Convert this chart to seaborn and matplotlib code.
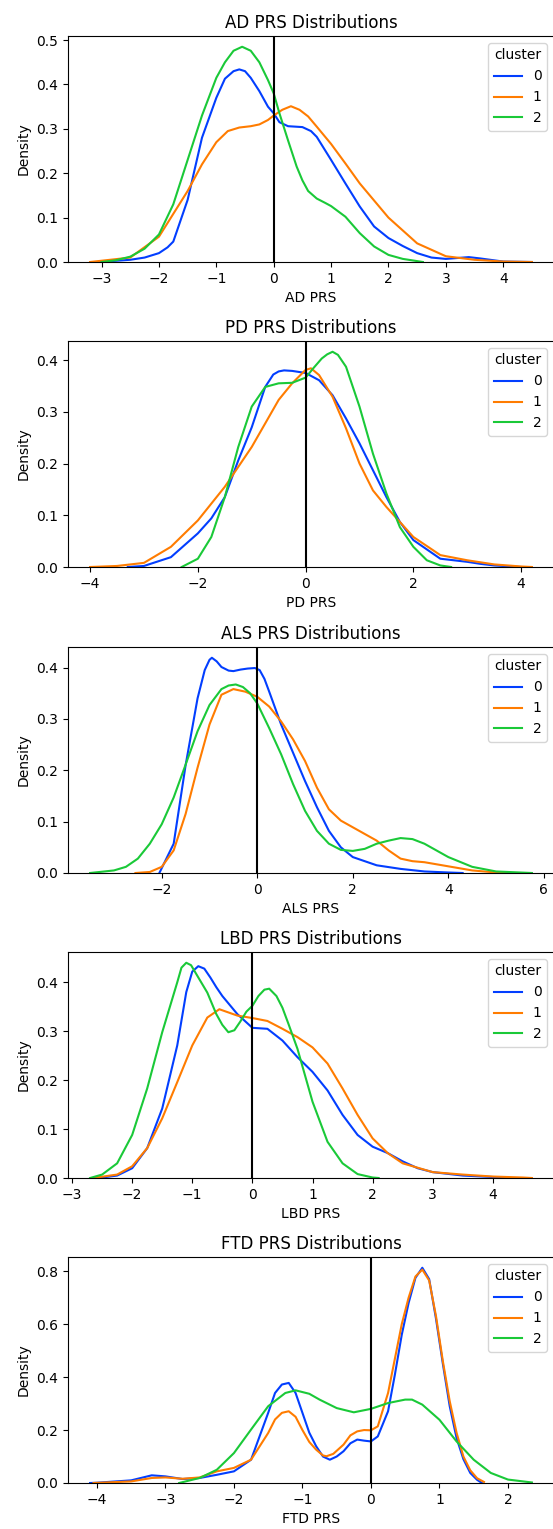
import pandas as pd
import matplotlib.pyplot as plt
import seaborn as sns

# density curves, one x/y list per cluster
ad_x0 = [-3.05, -2.5, -2.25, -2.0, -1.85, -1.75, -1.5, -1.25, -1.0, -0.85, -0.7, -0.6, -0.5, -0.4, -0.25, -0.1, 0.0, 0.1, 0.25, 0.5, 0.65, 0.75, 1.0, 1.25, 1.5, 1.75, 2.0, 2.25, 2.5, 2.75, 3.0, 3.2, 3.4, 3.6, 4.0, 4.5]
ad_y0 = [0.0, 0.005, 0.01, 0.02, 0.033, 0.046, 0.14, 0.28, 0.37, 0.413, 0.43, 0.434, 0.43, 0.415, 0.385, 0.35, 0.335, 0.315, 0.306, 0.304, 0.295, 0.282, 0.23, 0.177, 0.125, 0.08, 0.054, 0.036, 0.02, 0.01, 0.007, 0.009, 0.011, 0.008, 0.001, 0.0]
ad_x1 = [-3.2, -2.5, -2.0, -1.5, -1.25, -1.0, -0.8, -0.6, -0.4, -0.25, -0.1, 0.0, 0.15, 0.3, 0.45, 0.6, 0.75, 1.0, 1.25, 1.5, 2.0, 2.5, 3.0, 3.5, 4.0, 4.5]
ad_y1 = [0.0, 0.01, 0.057, 0.16, 0.22, 0.27, 0.295, 0.303, 0.306, 0.31, 0.32, 0.33, 0.343, 0.351, 0.343, 0.328, 0.305, 0.266, 0.222, 0.177, 0.1, 0.042, 0.013, 0.005, 0.001, 0.0]
ad_x2 = [-3.0, -2.75, -2.5, -2.25, -2.0, -1.75, -1.5, -1.25, -1.0, -0.85, -0.7, -0.55, -0.4, -0.25, -0.1, 0.0, 0.1, 0.25, 0.4, 0.5, 0.6, 0.75, 0.9, 1.0, 1.25, 1.5, 1.75, 2.0, 2.25, 2.6]
ad_y2 = [0.0, 0.004, 0.012, 0.03, 0.062, 0.13, 0.23, 0.33, 0.415, 0.45, 0.476, 0.485, 0.476, 0.45, 0.41, 0.38, 0.335, 0.274, 0.215, 0.184, 0.16, 0.143, 0.133, 0.126, 0.102, 0.065, 0.035, 0.016, 0.007, 0.0]

pd_x0 = [-3.3, -3.0, -2.5, -2.0, -1.75, -1.5, -1.25, -1.0, -0.75, -0.6, -0.5, -0.4, -0.25, 0.0, 0.25, 0.5, 0.75, 1.0, 1.25, 1.5, 1.75, 2.0, 2.5, 3.0, 3.25, 3.5, 4.0]
pd_y0 = [0.0, 0.002, 0.019, 0.065, 0.094, 0.135, 0.206, 0.27, 0.348, 0.372, 0.378, 0.38, 0.379, 0.375, 0.361, 0.332, 0.287, 0.239, 0.187, 0.135, 0.087, 0.052, 0.016, 0.01, 0.006, 0.003, 0.0]
pd_x1 = [-4.0, -3.5, -3.0, -2.5, -2.0, -1.5, -1.0, -0.5, -0.25, 0.0, 0.1, 0.25, 0.5, 0.75, 1.0, 1.25, 1.5, 1.75, 2.0, 2.5, 3.0, 3.5, 4.0, 4.2]
pd_y1 = [0.0, 0.002, 0.008, 0.039, 0.09, 0.155, 0.232, 0.323, 0.355, 0.381, 0.384, 0.371, 0.329, 0.268, 0.2, 0.148, 0.116, 0.087, 0.058, 0.023, 0.013, 0.005, 0.001, 0.0]
pd_x2 = [-2.3, -2.0, -1.75, -1.5, -1.25, -1.0, -0.75, -0.5, -0.25, 0.0, 0.15, 0.3, 0.4, 0.5, 0.6, 0.75, 1.0, 1.25, 1.5, 1.75, 2.0, 2.25, 2.5, 2.7]
pd_y2 = [0.0, 0.016, 0.058, 0.135, 0.232, 0.31, 0.348, 0.355, 0.356, 0.366, 0.385, 0.403, 0.411, 0.416, 0.41, 0.387, 0.31, 0.219, 0.142, 0.077, 0.039, 0.013, 0.003, 0.0]

als_x0 = [-2.05, -1.75, -1.5, -1.25, -1.1, -1.0, -0.95, -0.85, -0.75, -0.6, -0.5, -0.35, -0.2, -0.05, 0.05, 0.15, 0.25, 0.5, 0.75, 1.0, 1.25, 1.5, 1.75, 2.0, 2.5, 3.0, 3.5, 4.0, 4.3]
als_y0 = [0.0, 0.057, 0.21, 0.34, 0.395, 0.415, 0.419, 0.412, 0.401, 0.394, 0.393, 0.396, 0.398, 0.399, 0.395, 0.378, 0.353, 0.289, 0.234, 0.179, 0.128, 0.082, 0.05, 0.031, 0.015, 0.008, 0.003, 0.001, 0.0]
als_x1 = [-2.55, -2.25, -2.0, -1.75, -1.5, -1.25, -1.0, -0.75, -0.5, -0.25, 0.0, 0.25, 0.5, 0.75, 1.0, 1.25, 1.5, 1.75, 2.0, 2.5, 2.75, 3.0, 3.25, 3.5, 4.0, 4.5, 5.0, 5.3]
als_y1 = [0.0, 0.002, 0.012, 0.044, 0.115, 0.205, 0.289, 0.347, 0.358, 0.353, 0.343, 0.324, 0.295, 0.26, 0.218, 0.166, 0.124, 0.102, 0.089, 0.063, 0.044, 0.028, 0.023, 0.021, 0.013, 0.005, 0.001, 0.0]
als_x2 = [-3.5, -3.0, -2.75, -2.5, -2.25, -2.0, -1.75, -1.5, -1.25, -1.0, -0.75, -0.6, -0.45, -0.3, -0.15, 0.0, 0.25, 0.5, 0.75, 1.0, 1.25, 1.5, 1.75, 2.0, 2.25, 2.5, 2.75, 3.0, 3.25, 3.5, 3.75, 4.0, 4.5, 5.0, 5.5, 5.75]
als_y2 = [0.0, 0.005, 0.012, 0.028, 0.057, 0.095, 0.147, 0.211, 0.276, 0.327, 0.358, 0.365, 0.367, 0.362, 0.35, 0.33, 0.282, 0.231, 0.173, 0.121, 0.082, 0.057, 0.045, 0.043, 0.047, 0.057, 0.063, 0.068, 0.066, 0.057, 0.044, 0.031, 0.012, 0.003, 0.001, 0.0]

lbd_x0 = [-2.65, -2.5, -2.25, -2.0, -1.75, -1.5, -1.25, -1.1, -1.0, -0.9, -0.8, -0.7, -0.6, -0.5, -0.25, 0.0, 0.25, 0.5, 0.75, 1.0, 1.25, 1.5, 1.75, 2.0, 2.25, 2.5, 2.75, 3.0, 3.5, 4.0, 4.3]
lbd_y0 = [0.0, 0.001, 0.005, 0.02, 0.061, 0.142, 0.271, 0.38, 0.422, 0.433, 0.428, 0.41, 0.39, 0.372, 0.335, 0.307, 0.305, 0.281, 0.247, 0.217, 0.179, 0.129, 0.088, 0.064, 0.051, 0.034, 0.02, 0.012, 0.005, 0.002, 0.0]
lbd_x1 = [-2.65, -2.25, -2.0, -1.75, -1.5, -1.25, -1.0, -0.75, -0.55, -0.25, 0.0, 0.25, 0.5, 0.75, 1.0, 1.25, 1.5, 1.75, 2.0, 2.25, 2.5, 3.0, 3.5, 4.0, 4.5, 4.65]
lbd_y1 = [0.0, 0.007, 0.024, 0.061, 0.122, 0.196, 0.271, 0.328, 0.345, 0.332, 0.327, 0.321, 0.305, 0.288, 0.267, 0.234, 0.183, 0.129, 0.081, 0.051, 0.03, 0.012, 0.007, 0.003, 0.001, 0.0]
lbd_x2 = [-2.7, -2.5, -2.25, -2.0, -1.75, -1.5, -1.25, -1.18, -1.1, -1.02, -0.9, -0.75, -0.6, -0.5, -0.4, -0.3, -0.2, -0.1, 0.0, 0.1, 0.2, 0.28, 0.4, 0.5, 0.6, 0.75, 1.0, 1.25, 1.5, 1.75, 2.0, 2.1]
lbd_y2 = [0.0, 0.007, 0.03, 0.088, 0.183, 0.298, 0.4, 0.43, 0.44, 0.435, 0.41, 0.379, 0.335, 0.313, 0.298, 0.302, 0.32, 0.34, 0.352, 0.372, 0.385, 0.387, 0.372, 0.348, 0.315, 0.264, 0.156, 0.074, 0.03, 0.008, 0.001, 0.0]

ftd_x0 = [-4.1, -4.0, -3.5, -3.2, -3.0, -2.75, -2.5, -2.25, -2.0, -1.75, -1.5, -1.4, -1.3, -1.2, -1.1, -1.0, -0.9, -0.8, -0.7, -0.6, -0.5, -0.4, -0.3, -0.2, -0.1, 0.0, 0.1, 0.25, 0.35, 0.45, 0.55, 0.65, 0.75, 0.85, 0.95, 1.05, 1.15, 1.25, 1.35, 1.45, 1.55, 1.62]
ftd_y0 = [0.0, 0.001, 0.01, 0.029, 0.025, 0.015, 0.019, 0.031, 0.044, 0.088, 0.265, 0.34, 0.372, 0.378, 0.34, 0.265, 0.19, 0.139, 0.1, 0.088, 0.1, 0.12, 0.15, 0.164, 0.16, 0.157, 0.176, 0.271, 0.41, 0.56, 0.68, 0.775, 0.813, 0.77, 0.62, 0.45, 0.29, 0.17, 0.09, 0.038, 0.012, 0.0]
ftd_x1 = [-4.05, -3.5, -3.2, -3.0, -2.75, -2.5, -2.25, -2.0, -1.75, -1.5, -1.4, -1.3, -1.2, -1.1, -1.0, -0.9, -0.8, -0.7, -0.65, -0.55, -0.4, -0.3, -0.2, -0.1, 0.0, 0.1, 0.25, 0.35, 0.45, 0.55, 0.65, 0.75, 0.85, 0.95, 1.05, 1.15, 1.25, 1.35, 1.45, 1.55, 1.65]
ftd_y1 = [0.0, 0.006, 0.019, 0.021, 0.016, 0.021, 0.044, 0.057, 0.088, 0.189, 0.24, 0.265, 0.271, 0.25, 0.2, 0.155, 0.126, 0.104, 0.101, 0.11, 0.145, 0.18, 0.195, 0.2, 0.199, 0.214, 0.34, 0.47, 0.6, 0.7, 0.78, 0.806, 0.765, 0.63, 0.46, 0.309, 0.19, 0.1, 0.048, 0.018, 0.004]
ftd_x2 = [-2.8, -2.5, -2.25, -2.0, -1.75, -1.5, -1.25, -1.1, -0.9, -0.75, -0.5, -0.25, 0.0, 0.25, 0.5, 0.6, 0.75, 1.0, 1.25, 1.5, 1.75, 2.0, 2.35]
ftd_y2 = [0.0, 0.019, 0.05, 0.113, 0.202, 0.29, 0.34, 0.35, 0.337, 0.315, 0.283, 0.267, 0.28, 0.302, 0.315, 0.315, 0.296, 0.239, 0.157, 0.088, 0.038, 0.013, 0.002]

diseases = ['AD', 'PD', 'ALS', 'LBD', 'FTD']
curves = {
    'AD': [(ad_x0, ad_y0), (ad_x1, ad_y1), (ad_x2, ad_y2)],
    'PD': [(pd_x0, pd_y0), (pd_x1, pd_y1), (pd_x2, pd_y2)],
    'ALS': [(als_x0, als_y0), (als_x1, als_y1), (als_x2, als_y2)],
    'LBD': [(lbd_x0, lbd_y0), (lbd_x1, lbd_y1), (lbd_x2, lbd_y2)],
    'FTD': [(ftd_x0, ftd_y0), (ftd_x1, ftd_y1), (ftd_x2, ftd_y2)],
}

palette = sns.color_palette('bright', 3)

fig = plt.figure(figsize=(5.53, 15.29), dpi=100)

# axes boxes measured in pixels, the right side runs off the canvas like the original crop
W, H = 553, 1529
tops = [36, 341, 647, 952, 1257]
ax_h = 226
left, right = 68, 554

for disease, top in zip(diseases, tops):
    ax = fig.add_axes([left / W, 1 - (top + ax_h) / H, (right - left) / W, ax_h / H])
    rows = []
    for cl, (xs, ys) in enumerate(curves[disease]):
        for x, y in zip(xs, ys):
            rows.append({'prs': x, 'density': y, 'cluster': cl})
    df = pd.DataFrame(rows)
    sns.lineplot(data=df, x='prs', y='density', hue='cluster', palette=palette,
                 sort=False, estimator=None, linewidth=1.5, ax=ax)
    ax.axvline(0, color='black', linewidth=1.5)
    ax.set_ylim(0, df['density'].max() * 1.05)
    ax.margins(x=0.05)
    # drop a tick that would sit on the cut right edge
    x0, x1 = ax.get_xlim()
    ax.set_xticks([t for t in ax.get_xticks() if x0 <= t < x1 - 0.1])
    ax.set_xlim(x0, x1)
    ax.set_title(f'{disease} PRS Distributions')
    ax.set_xlabel(f'{disease} PRS')
    ax.set_ylabel('Density')
    ax.legend(title='cluster', loc='upper right')

fig.savefig('out.png', dpi=100)
